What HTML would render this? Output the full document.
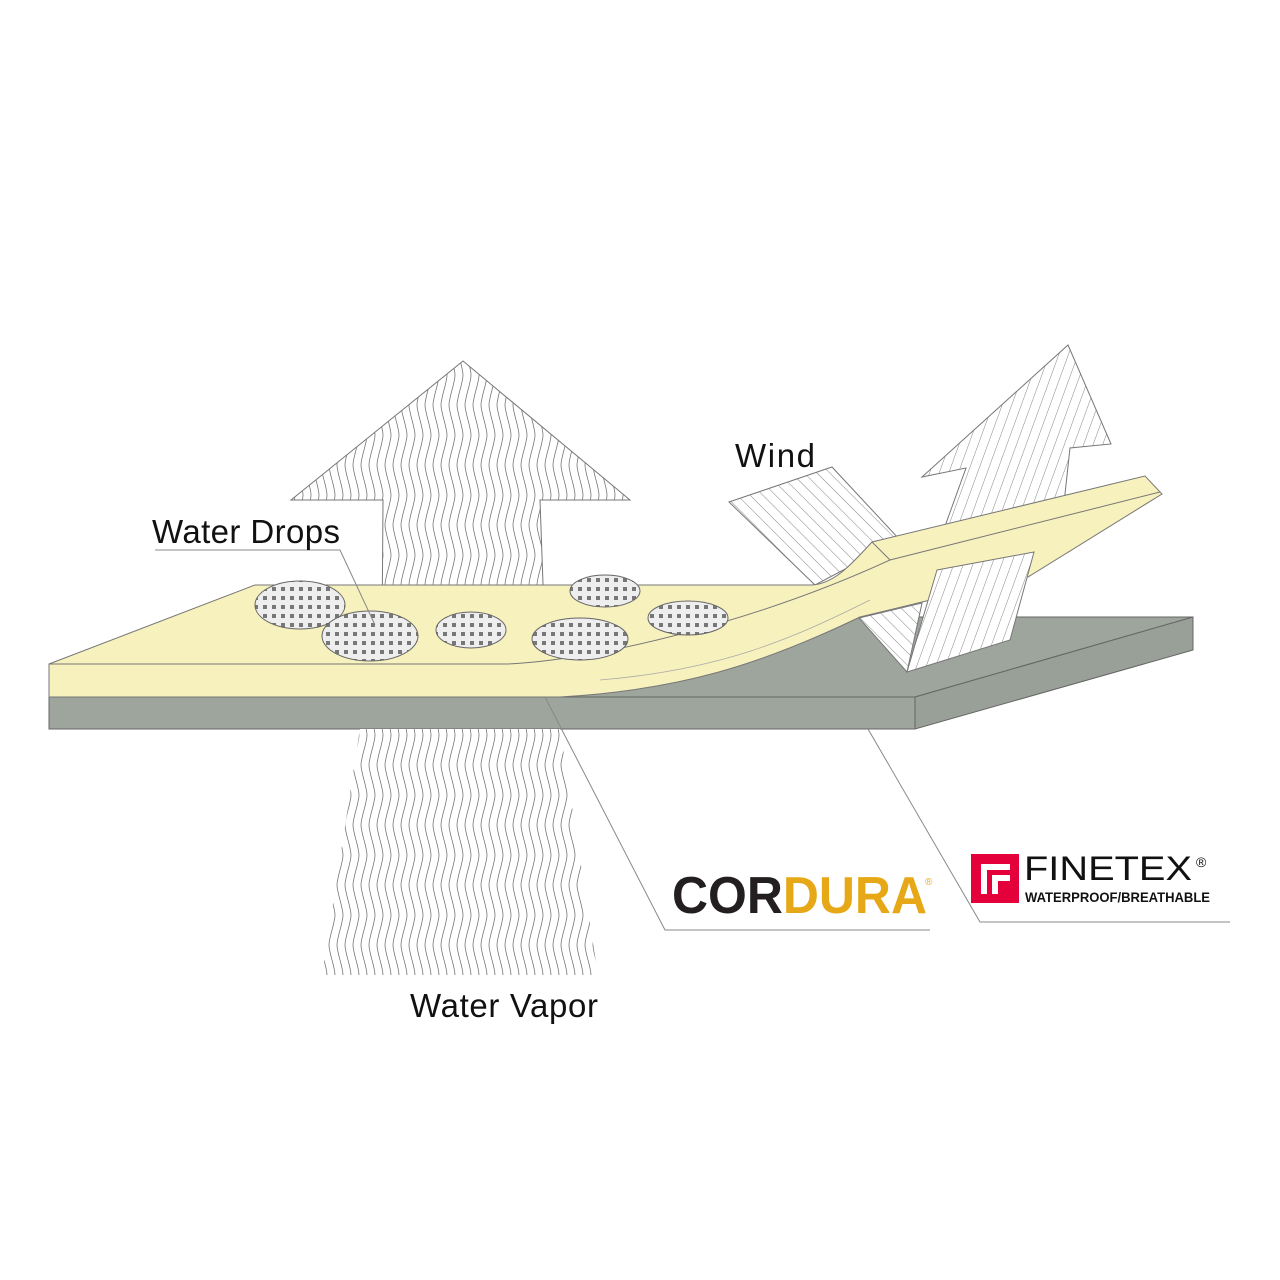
<!DOCTYPE html>
<html><head><meta charset="utf-8"><style>
html,body{margin:0;padding:0;background:#fff;width:1280px;height:1280px;overflow:hidden}
svg{display:block}
text{font-family:"Liberation Sans",sans-serif}
</style></head><body>
<svg width="1280" height="1280" viewBox="0 0 1280 1280" xmlns="http://www.w3.org/2000/svg">
<defs>
<pattern id="wave" width="8" height="60" patternUnits="userSpaceOnUse">
<rect width="8" height="60" fill="#fff"/>
<path d="M4 0 C8 15 8 15 4 30 C0 45 0 45 4 60" fill="none" stroke="#777" stroke-width="0.8"/>
</pattern>
<pattern id="diag" width="9" height="9" patternUnits="userSpaceOnUse" patternTransform="rotate(-45)">
<rect width="9" height="9" fill="#fff"/>
<line x1="0" y1="0" x2="0" y2="9" stroke="#666" stroke-width="0.8"/>
</pattern>
<pattern id="diag2" width="9" height="9" patternUnits="userSpaceOnUse" patternTransform="rotate(20)">
<rect width="9" height="9" fill="#fff"/>
<line x1="0" y1="0" x2="0" y2="9" stroke="#666" stroke-width="0.8"/>
</pattern>
<pattern id="dots" width="9" height="9" patternUnits="userSpaceOnUse">
<rect width="9" height="9" fill="#eee"/>
<rect x="2" y="2" width="4" height="4" fill="#777"/>
</pattern>
</defs>

<!-- big up arrow -->
<path d="M463,361 L630,500 L540,500 L545,640 L382,640 L383,500 L291,500 Z" fill="url(#wave)" stroke="#777" stroke-width="1"/>
<!-- up-right arrow -->
<path d="M1068,345 L1111,444 L1070,448 L1060,540 L940,540 L966,468 L922,477 Z" fill="url(#diag2)" stroke="#777" stroke-width="1"/>
<!-- wind arrow upper -->
<path d="M729,502 L832,467 L900,540 L815,585 Z" fill="url(#diag)" stroke="#777" stroke-width="1"/>

<!-- gray layer -->
<path d="M49,697 L915,697 L1193,617 L860,617 Z" fill="#9da59c" stroke="#666" stroke-width="1"/>
<rect x="49" y="697" width="866" height="32" fill="#9da59c" stroke="#666" stroke-width="1"/>
<path d="M915,697 L1193,617 L1193,650 L915,729 Z" fill="#98a097" stroke="#666" stroke-width="1"/>

<!-- yellow layer -->
<path d="M49,664 L255,585 L810,585 C835,585 855,560 872,542 L1145,476 L1162,494 L1028,577 L922,602 L860,617 C760,665 680,690 560,697 L49,697 Z" fill="#f7f1bd" stroke="#777" stroke-width="1"/>
<path d="M49,664 L507,664 C600,660 760,620 890,560 L1160,492" fill="none" stroke="#777" stroke-width="1"/>
<path d="M872,542 L890,560" fill="none" stroke="#777" stroke-width="1"/>
<path d="M600,680 C720,670 790,640 870,600" fill="none" stroke="#aaa" stroke-width="0.8"/>
<path d="M49,664 L49,697" stroke="#777"/>

<!-- wind arrow lower parts -->
<path d="M859,618 L922,603 L907,672 Z" fill="url(#diag)" stroke="#777" stroke-width="1"/>
<path d="M937,570 L1034,552 L1010,640 L907,672 Z" fill="url(#diag2)" stroke="#777" stroke-width="1"/>

<!-- drops -->
<g stroke="#666" stroke-width="1" fill="url(#dots)">
<ellipse cx="300" cy="605" rx="45" ry="24"/>
<ellipse cx="370" cy="636" rx="48" ry="25"/>
<ellipse cx="471" cy="630" rx="35" ry="18"/>
<ellipse cx="580" cy="639" rx="48" ry="21"/>
<ellipse cx="605" cy="591" rx="35" ry="16"/>
<ellipse cx="688" cy="618" rx="40" ry="17"/>
</g>

<!-- bottom vapor arrow -->
<path d="M360,729 L560,729 L598,975 L322,975 Z" fill="url(#wave)"/>

<!-- pointer lines -->
<g fill="none" stroke="#888" stroke-width="1">
<path d="M155,550 L340,550 L375,625"/>
<path d="M545,697 L665,930 L930,930"/>
<path d="M868,729 L980,922 L1230,922"/>
</g>

<text x="152" y="543" font-size="33" fill="#111" textLength="188">Water Drops</text>
<text x="735" y="467" font-size="33" fill="#111" textLength="80">Wind</text>
<text x="410" y="1017" font-size="33" fill="#111" textLength="188">Water Vapor</text>

<!-- CORDURA -->
<text x="672" y="913" font-size="52" font-weight="bold" fill="#231f20" textLength="255" lengthAdjust="spacingAndGlyphs">COR<tspan fill="#e6a817">DURA</tspan></text>
<text x="925" y="885" font-size="10" fill="#e6a817">®</text>

<!-- FINETEX -->
<rect x="971" y="854" width="48" height="49" fill="#e4003a"/>
<path d="M981,894 L981,864 L1010,864 L1010,870 L987,870 L987,894 Z M992,894 L992,875 L1010,875 L1010,881 L998,881 L998,894 Z" fill="#fff"/>
<text x="1024" y="880" font-size="34" fill="#111" textLength="168" lengthAdjust="spacingAndGlyphs">FINETEX</text>
<text x="1196" y="867" font-size="14" fill="#111">®</text>
<text x="1025" y="902" font-size="14" font-weight="bold" fill="#111" textLength="185" lengthAdjust="spacingAndGlyphs">WATERPROOF/BREATHABLE</text>
</svg>
</body></html>
